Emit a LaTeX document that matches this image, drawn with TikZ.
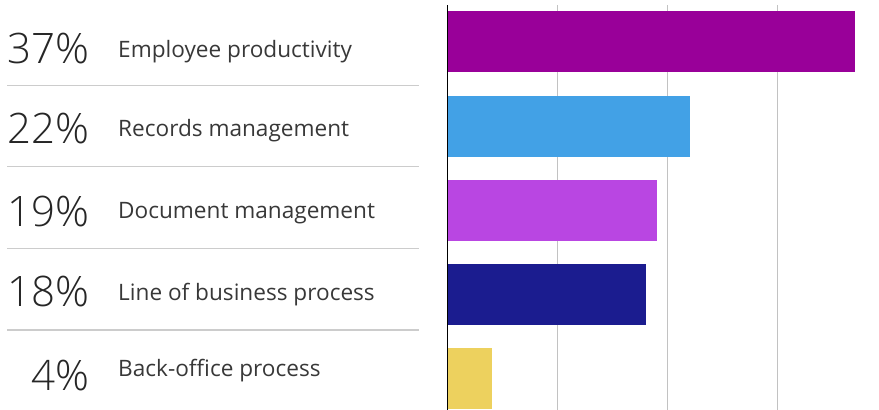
\documentclass[tikz,border=0pt]{standalone}
\usepackage{fontspec}
\setmainfont{Open Sans}
\newfontfamily\lightfont{Open Sans}[UprightFont=* Light]
\definecolor{barplum}{HTML}{990099}
\definecolor{barsky}{HTML}{42A1E6}
\definecolor{barorchid}{HTML}{B946E2}
\definecolor{barnavy}{HTML}{1B1C8F}
\definecolor{barsand}{HTML}{EDD15E}
\definecolor{rulegray}{HTML}{CCCCCC}
\definecolor{gridgray}{HTML}{C2C2C2}
\tikzset{
	pct/.style={anchor=base east, inner sep=0pt, text=black!85, font=\lightfont\fontsize{42}{42}\selectfont},
	lab/.style={anchor=base west, inner sep=0pt, text=black!78, font=\fontsize{22.6}{22.6}\selectfont},
	sep/.style={line width=1.2pt, color=rulegray},
	grid/.style={line width=1.2pt, color=gridgray}
}

\begin{document}
\begin{tikzpicture}[x=1pt, y=-1pt]
			%%%%% START %%%%%
			\useasboundingbox (0, 0) rectangle (879, 410);
			
			% left column: values and labels
			\node[pct] (p1) at (90, 63.3) {37\%};
			\node[lab] (l1) at (118, 57.3) {Employee productivity};
			\node[pct] (p2) at (90, 143.3) {22\%};
			\node[lab] (l2) at (118, 136) {Records management};
			\node[pct] (p3) at (90, 226.7) {19\%};
			\node[lab] (l3) at (118, 218.3) {Document management};
			\node[pct] (p4) at (90, 306.7) {18\%};
			\node[lab] (l4) at (118, 300) {Line of business process};
			\node[pct] (p5) at (90, 390) {4\%};
			\node[lab] (l5) at (118, 376.7) {Back-office process};
			
			\draw[sep] (7, 85.7) -- (419, 85.7);
			\draw[sep] (7, 166.7) -- (419, 166.7);
			\draw[sep] (7, 248.3) -- (419, 248.3);
			\draw[sep] (7, 330) -- (419, 330);
			
			% grid, 11 per percent
			\draw[grid] (557.3, 5) -- (557.3, 410);
			\draw[grid] (667.3, 5) -- (667.3, 410);
			\draw[grid] (777.3, 5) -- (777.3, 410);
			
			% bars
			\fill[barplum] (447.3, 11) rectangle (855, 71.7);
			\fill[barsky] (447.3, 96) rectangle (689.7, 156.7);
			\fill[barorchid] (447.3, 180) rectangle (657, 240.7);
			\fill[barnavy] (447.3, 264) rectangle (646, 324.7);
			\fill[barsand] (447.3, 348) rectangle (492, 408.7);
			
			\draw[line width=1.6pt, color=black] (447.3, 5) -- (447.3, 410);
			%%%%% END %%%%%
\end{tikzpicture}
\end{document}
